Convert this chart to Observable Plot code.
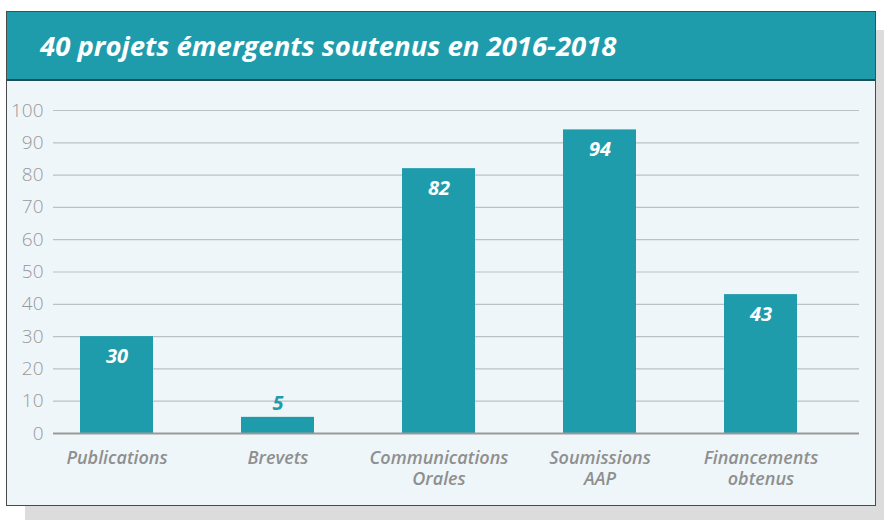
<!DOCTYPE html>
<html>
<head>
<meta charset="utf-8">
<script src="https://cdn.jsdelivr.net/npm/d3@7"></script>
<script src="https://cdn.jsdelivr.net/npm/@observablehq/plot@0.6"></script>
<style>
  html, body { margin: 0; padding: 0; background: #ffffff; width: 884px; height: 520px; overflow: hidden; }
  #shadow { position: absolute; left: 25px; top: 30px; width: 870px; height: 495px; background: #dcdcdc; }
  #box { position: absolute; left: 6px; top: 11px; width: 868px; height: 493px; border: 1px solid #4a4a4a; background: #eef6f9; }
  #title { height: 67px; background: #1f9cac; border-bottom: 2px solid #1d4f55; color: #ffffff;
    font-family: "Open Sans", sans-serif; font-weight: 700; font-style: italic; font-size: 27.5px;
    line-height: 67px; padding-left: 33px; box-sizing: content-box; white-space: nowrap; }
  #chart svg { display: block; }
</style>
</head>
<body>
<div id="shadow"></div>
<div id="box">
  <div id="title">40 projets émergents soutenus en 2016-2018</div>
  <div id="chart"></div>
</div>
<script>
const categories = ["Publications", "Brevets", "Communications Orales", "Soumissions AAP", "Financements obtenus"];
const tickLabels = ["Publications", "Brevets", "Communications\nOrales", "Soumissions\nAAP", "Financements\nobtenus"];
const values = [30, 5, 82, 94, 43];
const yTicks = [0, 10, 20, 30, 40, 50, 60, 70, 80, 90, 100];

const teal = "#1f9cac";
const data = categories.map((c, i) => ({category: c, value: values[i]}));
const labelOf = new Map(categories.map((c, i) => [c, tickLabels[i]]));

const chart = Plot.plot({
  width: 868,
  height: 424,
  marginLeft: 46,
  marginRight: 16,
  marginTop: 29,
  marginBottom: 72,
  style: {background: "transparent", fontFamily: "'Open Sans', sans-serif"},
  x: {domain: categories, range: [39, 823.7], paddingInner: 0.5487, paddingOuter: 0.2, label: null},
  y: {domain: [0, 100], label: null},
  marks: [
    Plot.ruleY(yTicks.filter(d => d > 0), {stroke: "#bcc1c4", strokeWidth: 1.2}),
    Plot.barY(data, {x: "category", y: "value", fill: teal}),
    Plot.ruleY([0], {stroke: "#9a9a9a", strokeWidth: 1.8}),
    Plot.axisY({ticks: yTicks, tickSize: 0, tickPadding: 10, fontSize: 19, fill: "#999999", fontWeight: 300}),
    Plot.axisX({tickSize: 0, tickPadding: 15, fontSize: 18, fill: "#8f8f8f", fontStyle: "italic", fontWeight: 600,
      lineHeight: 1.2, tickFormat: d => labelOf.get(d)}),
    Plot.text(data.filter(d => d.value >= 15), {x: "category", y: "value", text: d => String(d.value), dy: 20,
      fill: "#ffffff", fontSize: 20, fontWeight: 700, fontStyle: "italic"}),
    Plot.text(data.filter(d => d.value < 15), {x: "category", y: "value", text: d => String(d.value), dy: -14,
      fill: teal, fontSize: 20, fontWeight: 700, fontStyle: "italic"})
  ]
});
document.getElementById("chart").appendChild(chart);
</script>
</body>
</html>
